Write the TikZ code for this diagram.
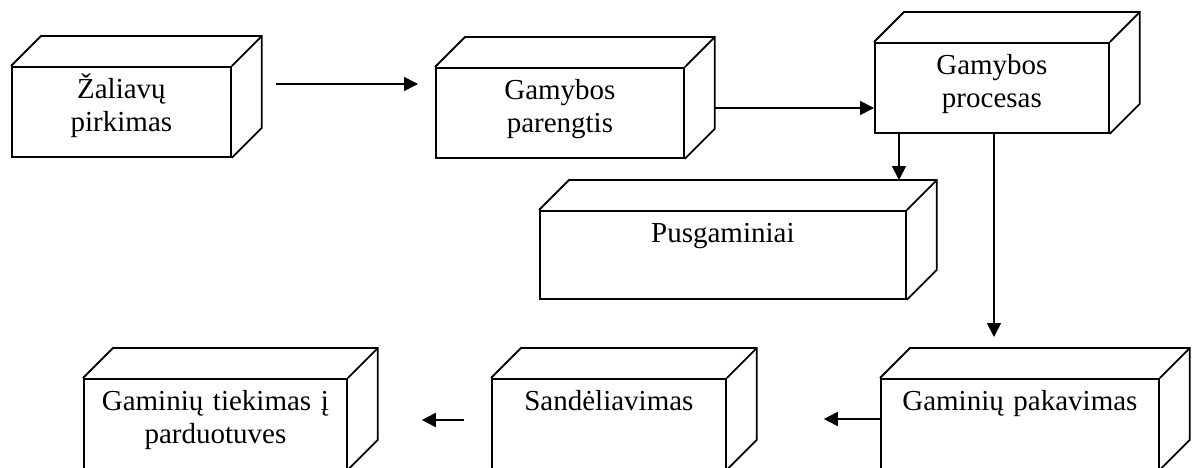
\documentclass[tikz,border=0pt]{standalone}
\usepackage{fontspec}
\setmainfont{Liberation Serif}
\usetikzlibrary{arrows.meta,calc}

\tikzset{
  box/.style={draw, line width=1.8pt, fill=white, inner sep=0pt, anchor=north west,
    align=center, text width=#1, text height=32pt, text depth=58pt},
  edge/.style={line width=1.8pt},
  arr/.style={line width=1.8pt, -{Triangle[length=14pt,width=14pt]}}
}

\begin{document}
\begin{tikzpicture}[x=1pt,y=1pt,font=\fontsize{29pt}{33pt}\selectfont]
\useasboundingbox (0,0) rectangle (1194,467);
\clip (0,0) rectangle (1194,467);
% front faces, top row
\node[box=219pt] (zal) at (11,401) {Žaliavų\\pirkimas};
\node[box=248pt] (par) at (435,400) {Gamybos\\parengtis};
\node[box=234pt] (proc) at (874,425) {Gamybos\\procesas};
\node[box=366pt, text depth=56pt] (pus) at (539,257) {Pusgaminiai};
% bottom row (runs off the page)
\node[box=278pt] (pak) at (880,89) {Gaminių pakavimas};
\node[box=234pt] (san) at (491,89) {Sandėliavimas};
\node[box=263pt] (tiek) at (83,89) {Gaminių tiekimas į\\parduotuves};
% top and side faces
\foreach \n in {zal,par,proc,pus,pak,san,tiek}{
  \draw[edge] (\n.north west) -- ++(30,30) -| ($(\n.south east)+(30,30)$) -- (\n.south east);
  \draw[edge] (\n.north east) -- ++(30,30);
}
% arrow ends
\coordinate (t1) at ([xshift=-17pt]par.west);
\coordinate (t3) at ([yshift=30pt]pus.north);
\coordinate (t4) at ([yshift=41pt]pak.north);
\coordinate (t5) at ([xshift=97pt]san.east);
\coordinate (t6) at ([xshift=74pt]tiek.east);
% arrows
\draw[arr] ([shift={(44pt,-18pt)}]zal.north east) coordinate (a1) -- (a1 -| t1);
\draw[arr] ([shift={(30pt,-41pt)}]par.north east) coordinate (a2) -- (a2 -| proc.west);
\draw[arr] ([xshift=25pt]proc.south west) coordinate (a3) -- (a3 |- t3);
\draw[arr] ([xshift=120pt]proc.south west) coordinate (a4) -- (a4 |- t4);
\draw[arr] ([yshift=-41pt]pak.north west) coordinate (a5) -- (a5 -| t5);
\draw[arr] ([shift={(-27pt,-42pt)}]san.north west) coordinate (a6) -- (a6 -| t6);
\end{tikzpicture}
\end{document}
